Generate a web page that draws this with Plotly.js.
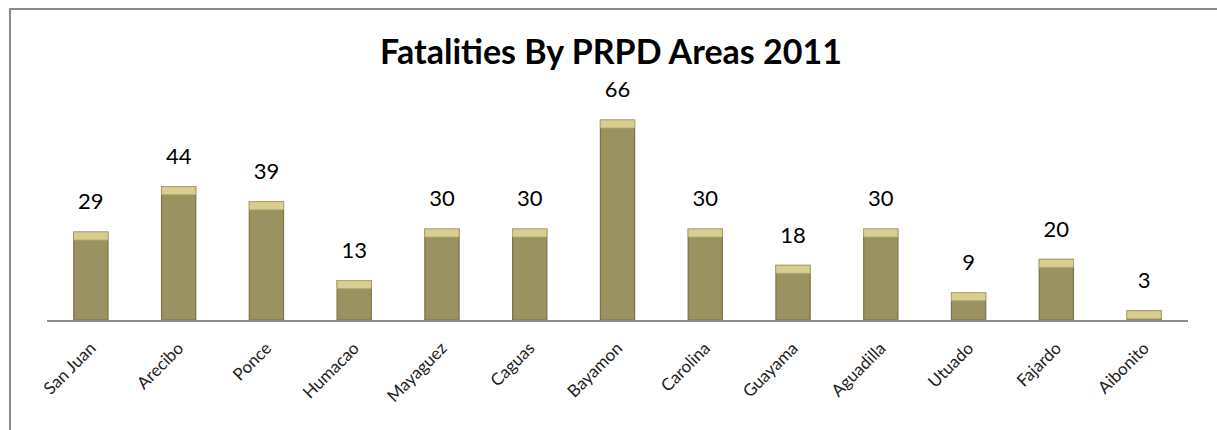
<!DOCTYPE html>
<html>
<head>
<meta charset="utf-8">
<script src="https://cdn.plot.ly/plotly-3.0.1.min.js"></script>
<style>
  html, body { margin: 0; padding: 0; background: #fff; }
  #wrap { position: relative; width: 1217px; height: 430px; overflow: hidden; }
  #frame { position: absolute; left: 9px; top: 8px; right: 0; bottom: -10px;
           border-left: 2px solid #8a8a8a; border-top: 2px solid #8a8a8a; pointer-events: none; }
  #chart { position: absolute; left: 0; top: 0; width: 1217px; height: 430px; }
</style>
</head>
<body>
<div id="wrap">
  <div id="chart"></div>
  <div id="frame"></div>
</div>
<script>
const areas = ["San Juan", "Arecibo", "Ponce", "Humacao", "Mayaguez", "Caguas", "Bayamon",
               "Carolina", "Guayama", "Aguadilla", "Utuado", "Fajardo", "Aibonito"];
const fatalities = [29, 44, 39, 13, 30, 30, 66, 30, 18, 30, 9, 20, 3];
const chartTitle = "Fatalities By PRPD Areas 2011";

const FONT = 'Lato, "Open Sans", sans-serif';
const capH = fatalities.map(v => Math.min(v, 2.6));
const capBase = fatalities.map((v, i) => v - capH[i]);

const body = {
  type: 'bar', x: areas, y: fatalities,
  marker: { color: '#9b9261', line: { color: '#7a7349', width: 1.2 } },
  hoverinfo: 'x+y'
};
const cap = {
  type: 'bar', x: areas, y: capH, base: capBase,
  marker: { color: '#d8ce90', line: { color: '#b5ab72', width: 0.8 } },
  hoverinfo: 'skip'
};
const labels = {
  type: 'scatter', mode: 'markers+text', x: areas, y: fatalities,
  marker: { size: 26, color: 'rgba(0,0,0,0)' },
  text: fatalities.map(String), textposition: 'top center', cliponaxis: false,
  textfont: { family: FONT, size: 22, color: '#000' },
  hoverinfo: 'skip'
};

const layout = {
  width: 1217, height: 430,
  margin: { l: 47, r: 29, t: 70, b: 110, pad: 0 },
  paper_bgcolor: 'rgba(0,0,0,0)', plot_bgcolor: 'rgba(0,0,0,0)',
  barmode: 'overlay', bargap: 0.61, showlegend: false,
  title: { text: '<b>' + chartTitle + '</b>', x: 611 / 1217, xref: 'container', xanchor: 'center',
           y: 1 - 52 / 430, yref: 'container', yanchor: 'middle',
           font: { family: FONT, size: 34, color: '#000' } },
  xaxis: { type: 'category', range: [-0.5, areas.length - 0.5],
           showline: true, linecolor: '#8c8c8c', linewidth: 1.5, ticks: '', tickangle: -45,
           ticklabelstandoff: 10,
           showgrid: false, zeroline: false, fixedrange: true,
           tickfont: { family: FONT, size: 17, color: '#222' } },
  yaxis: { range: [0, 82.5], visible: false, showgrid: false, zeroline: false, fixedrange: true }
};

Plotly.newPlot('chart', [body, cap, labels], layout, { displayModeBar: false, staticPlot: true });
</script>
</body>
</html>
